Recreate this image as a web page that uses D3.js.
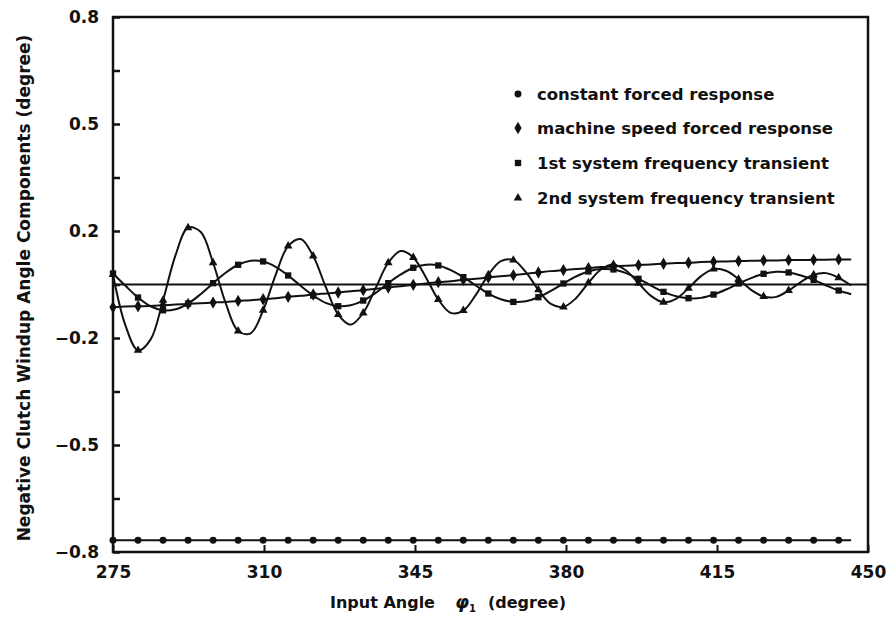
<!DOCTYPE html>
<html>
<head>
<meta charset="utf-8">
<script src="https://cdn.jsdelivr.net/npm/d3@7"></script>
<style>
  body { margin: 0; background: #fff; }
  text { font-family: "DejaVu Sans", sans-serif; font-weight: bold; fill: #111; }
</style>
</head>
<body>
<div class="windupDiv"></div>
<script>
// sample grid along the input angle (degree)
const angleStart = 275;
const angleStep = 2.9;

// series values, one per grid step
const constantForced = [
    -0.765, -0.765, -0.765, -0.765, -0.765, -0.765, -0.765, -0.765, -0.765, -0.765,
    -0.765, -0.765, -0.765, -0.765, -0.765, -0.765, -0.765, -0.765, -0.765, -0.765,
    -0.765, -0.765, -0.765, -0.765, -0.765, -0.765, -0.765, -0.765, -0.765, -0.765,
    -0.765, -0.765, -0.765, -0.765, -0.765, -0.765, -0.765, -0.765, -0.765, -0.765,
    -0.765, -0.765, -0.765, -0.765, -0.765, -0.765, -0.765, -0.765, -0.765, -0.765,
    -0.765, -0.765, -0.765, -0.765, -0.765, -0.765, -0.765, -0.765, -0.765, -0.765
];
const machineSpeed = [
    -0.068, -0.066, -0.065, -0.064, -0.062, -0.060, -0.058, -0.056, -0.054, -0.052,
    -0.049, -0.047, -0.044, -0.041, -0.037, -0.034, -0.030, -0.027, -0.024, -0.020,
    -0.017, -0.013, -0.009, -0.005, -0.001, 0.003, 0.007, 0.010, 0.014, 0.017,
    0.021, 0.025, 0.028, 0.032, 0.036, 0.040, 0.043, 0.046, 0.049, 0.052,
    0.054, 0.056, 0.058, 0.060, 0.062, 0.064, 0.065, 0.067, 0.068, 0.069,
    0.070, 0.071, 0.072, 0.072, 0.073, 0.073, 0.074, 0.074, 0.075, 0.075
];
const firstTransient = [
    0.033, -0.004, -0.039, -0.065, -0.077, -0.074, -0.057, -0.029, 0.004, 0.035,
    0.059, 0.071, 0.069, 0.053, 0.027, -0.004, -0.033, -0.055, -0.065, -0.062,
    -0.048, -0.025, 0.004, 0.030, 0.050, 0.059, 0.057, 0.043, 0.022, -0.003,
    -0.027, -0.044, -0.052, -0.050, -0.038, -0.019, 0.003, 0.024, 0.039, 0.046,
    0.045, 0.034, 0.017, -0.003, -0.022, -0.035, -0.041, -0.040, -0.030, -0.015,
    0.003, 0.019, 0.032, 0.038, 0.036, 0.027, 0.014, -0.003, -0.018, -0.029
];
const secondTransient = [
    0.030, -0.123, -0.197, -0.165, -0.047, 0.088, 0.170, 0.158, 0.065, -0.055,
    -0.139, -0.146, -0.077, 0.029, 0.115, 0.136, 0.085, -0.007, -0.090, -0.120,
    -0.085, -0.010, 0.065, 0.100, 0.081, 0.022, -0.045, -0.085, -0.078, -0.031,
    0.029, 0.070, 0.073, 0.037, -0.016, -0.058, -0.067, -0.041, 0.005, 0.045,
    0.060, 0.042, 0.004, -0.034, -0.053, -0.043, -0.011, 0.025, 0.046, 0.041,
    0.016, -0.016, -0.036, -0.037, -0.018, 0.008, 0.029, 0.034, 0.020, -0.003
];

const legendNames = [
    'constant forced response',
    'machine speed forced response',
    '1st system frequency transient',
    '2nd system frequency transient'
];

const xTickValues = [275, 310, 345, 380, 415, 450];
const yTickValues = [-0.8, -0.64, -0.48, -0.32, -0.16, 0, 0.16, 0.32, 0.48, 0.64, 0.8];
const yLabelValues = [0.8, 0.48, 0.16, -0.16, -0.48, -0.8];
const yLabelTexts = ['0.8', '0.5', '0.2', '\u22120.2', '\u22120.5', '\u22120.8'];

const chartWidth = 892;
const chartHeight = 629;
const plotLeft = 113, plotRight = 868, plotTop = 17, plotBottom = 552;

const svg = d3.select('.windupDiv')
    .append('svg')
    .attr('width', chartWidth)
    .attr('height', chartHeight);

const x = d3.scaleLinear().domain([275, 450]).range([plotLeft, plotRight]);
const y = d3.scaleLinear().domain([-0.8, 0.8]).range([plotBottom, plotTop]);

const seriesList = [
    {values: constantForced, symbol: d3.symbolCircle, size: 38},
    {values: machineSpeed, symbol: d3.symbolDiamond, size: 44},
    {values: firstTransient, symbol: d3.symbolSquare, size: 40},
    {values: secondTransient, symbol: d3.symbolTriangle, size: 32}
];

// zero reference line
svg.append('line')
    .attr('x1', plotLeft).attr('x2', plotRight)
    .attr('y1', y(0)).attr('y2', y(0))
    .style('stroke', '#111')
    .style('stroke-width', 2);

const line = d3.line()
    .x((d, i) => x(angleStart + i * angleStep))
    .y(d => y(d))
    .curve(d3.curveCatmullRom);

seriesList.forEach(s => {
    svg.append('path')
        .datum(s.values)
        .attr('d', line)
        .attr('fill', 'none')
        .style('stroke', '#111')
        .style('stroke-width', 2);

    const marks = s.values.map((v, i) => ({a: angleStart + i * angleStep, v: v}))
        .filter((d, i) => i % 2 == 0);

    svg.selectAll(null)
        .data(marks)
        .enter()
        .append('path')
        .attr('d', d3.symbol().type(s.symbol).size(s.size))
        .attr('transform', d => 'translate(' + x(d.a) + ',' + y(d.v) + ')')
        .attr('fill', '#111');
});

// frame
svg.append('rect')
    .attr('x', plotLeft).attr('y', plotTop)
    .attr('width', plotRight - plotLeft)
    .attr('height', plotBottom - plotTop)
    .attr('fill', 'none')
    .style('stroke', '#111')
    .style('stroke-width', 2.5);

// axes with inward ticks
const yAxis = d3.axisLeft(y).tickValues(yTickValues).tickSize(-7).tickFormat('');
svg.append('g')
    .attr('transform', 'translate(' + plotLeft + ',0)')
    .call(yAxis)
    .call(g => g.select('.domain').remove())
    .call(g => g.selectAll('line').style('stroke', '#111').style('stroke-width', 2.5));

svg.selectAll('.ylabel')
    .data(yLabelValues)
    .enter()
    .append('text')
    .attr('class', 'ylabel')
    .attr('x', 99)
    .attr('y', d => y(d))
    .attr('dy', '0.35em')
    .attr('text-anchor', 'end')
    .style('font-size', '17px')
    .text((d, i) => yLabelTexts[i]);

const xAxis = d3.axisBottom(x).tickValues(xTickValues).tickSize(-7).tickPadding(14).tickFormat(d3.format('d'));
svg.append('g')
    .attr('transform', 'translate(0,' + plotBottom + ')')
    .call(xAxis)
    .call(g => g.select('.domain').remove())
    .call(g => g.selectAll('line').style('stroke', '#111').style('stroke-width', 2))
    .call(g => g.selectAll('text').style('font-size', '17px').style('font-family', '"DejaVu Sans", sans-serif')
        .style('font-weight', 'bold').attr('fill', '#111'));

// axis titles
const xTitle = svg.append('text')
    .attr('x', 330)
    .attr('y', 608)
    .style('font-size', '16px');
xTitle.append('tspan').text('Input Angle');
xTitle.append('tspan').attr('x', 455).style('font-style', 'italic').style('font-size', '18px').text('\u03c6');
xTitle.append('tspan').attr('dy', 4).style('font-size', '10px').text('1');
xTitle.append('tspan').attr('x', 488).attr('dy', -4).text('(degree)');

svg.append('text')
    .attr('transform', 'translate(30,' + 288 + ') rotate(-90)')
    .attr('text-anchor', 'middle')
    .style('font-size', '17px')
    .text('Negative Clutch Windup Angle Components  (degree)');

// legend
const legendY = [94, 128, 163, 198];
legendNames.forEach((name, i) => {
    svg.append('path')
        .attr('d', d3.symbol().type(seriesList[i].symbol).size(seriesList[i].size))
        .attr('transform', 'translate(518,' + legendY[i] + ')')
        .attr('fill', '#111');
    svg.append('text')
        .attr('x', 537)
        .attr('y', legendY[i])
        .attr('dy', '0.35em')
        .style('font-size', '16.5px')
        .text(name);
});
</script>
</body>
</html>
